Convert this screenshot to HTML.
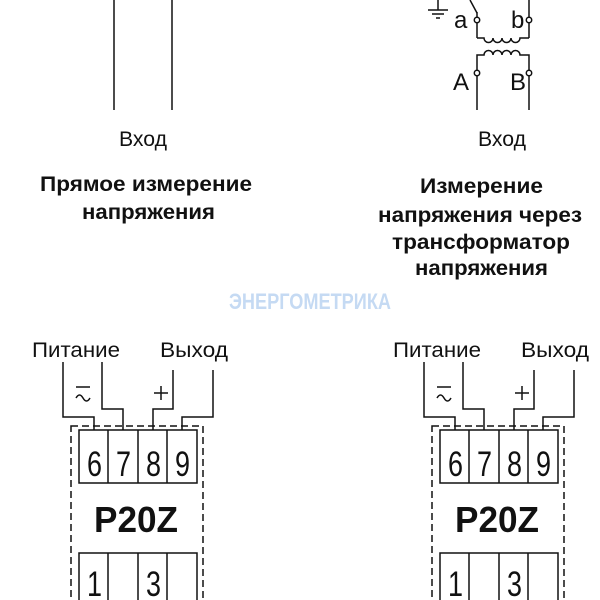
<!DOCTYPE html>
<html><head><meta charset="utf-8"><style>
html,body{margin:0;padding:0;background:#fff;}
svg{display:block;}
text{font-family:"Liberation Sans",sans-serif;fill:#111;}
.b{font-weight:bold;font-size:21px;}
.d{font-size:35px;}
</style></head><body>
<svg width="600" height="600" viewBox="0 0 600 600" xmlns="http://www.w3.org/2000/svg">
<g stroke="#111" stroke-width="1.5" fill="none">
<line x1="114" y1="0" x2="114" y2="110"/>
<line x1="172" y1="0" x2="172" y2="110"/>
<line x1="438" y1="0" x2="438" y2="10"/>
<line x1="428" y1="10" x2="448" y2="10"/>
<line x1="432" y1="14" x2="444" y2="14"/>
<line x1="436" y1="18" x2="440" y2="18"/>
<line x1="470" y1="0" x2="477" y2="13"/>
<line x1="477" y1="12" x2="477" y2="38"/>
<line x1="529" y1="0" x2="529" y2="38"/>
<path d="M477 38 H484 a4.5 4.5 0 0 0 9 0 a4.5 4.5 0 0 0 9 0 a4.5 4.5 0 0 0 9 0 a4.5 4.5 0 0 0 9 0 H529"/>
<path d="M477 110 V55 H484 a4.5 4.5 0 0 1 9 0 a4.5 4.5 0 0 1 9 0 a4.5 4.5 0 0 1 9 0 a4.5 4.5 0 0 1 9 0 H529 V110"/>
<circle cx="477" cy="20" r="2.7" fill="#fff"/>
<circle cx="529" cy="20" r="2.7" fill="#fff"/>
<circle cx="477" cy="73" r="2.7" fill="#fff"/>
<circle cx="529" cy="73" r="2.7" fill="#fff"/>
</g>
<text x="454" y="28" font-size="24">a</text>
<text x="511" y="28" font-size="24">b</text>
<text x="453" y="90" font-size="24">A</text>
<text x="510" y="90" font-size="24">B</text>

<text x="119" y="146" font-size="21" textLength="48" lengthAdjust="spacingAndGlyphs">Вход</text>
<text x="478" y="146" font-size="21" textLength="48" lengthAdjust="spacingAndGlyphs">Вход</text>
<text x="40" y="191" class="b" textLength="212" lengthAdjust="spacingAndGlyphs">Прямое измерение</text>
<text x="82" y="219" class="b" textLength="133" lengthAdjust="spacingAndGlyphs">напряжения</text>
<text x="420" y="193" class="b" textLength="123" lengthAdjust="spacingAndGlyphs">Измерение</text>
<text x="378" y="222" class="b" textLength="204" lengthAdjust="spacingAndGlyphs">напряжения через</text>
<text x="392" y="249" class="b" textLength="178" lengthAdjust="spacingAndGlyphs">трансформатор</text>
<text x="415" y="275" class="b" textLength="133" lengthAdjust="spacingAndGlyphs">напряжения</text>

<text x="229" y="309" font-size="22" font-weight="bold" textLength="162" lengthAdjust="spacingAndGlyphs" style="fill:#c5daf3">ЭНЕРГОМЕТРИКА</text>

<g id="blk">
<g stroke="#111" stroke-width="1.5" fill="none">
<rect x="71" y="426" width="132" height="190" stroke-dasharray="7,4"/>
<rect x="79" y="430" width="118" height="53" fill="#fff"/>
<line x1="108" y1="430" x2="108" y2="483"/>
<line x1="138" y1="430" x2="138" y2="483"/>
<line x1="167" y1="430" x2="167" y2="483"/>
<rect x="79" y="553" width="118" height="60" fill="#fff"/>
<line x1="108" y1="553" x2="108" y2="600"/>
<line x1="138" y1="553" x2="138" y2="600"/>
<line x1="167" y1="553" x2="167" y2="600"/>
<polyline points="63,362 63,417 94,417 94,430"/>
<polyline points="102,362 102,409 123,409 123,430"/>
<polyline points="173,370 173,409 153,409 153,430"/>
<polyline points="213,370 213,417 182,417 182,430"/>
<line x1="154" y1="393" x2="168" y2="393"/>
<line x1="161" y1="386" x2="161" y2="400"/>
<line x1="76" y1="387" x2="90" y2="387"/>
<path d="M76 398 q3.5 -6 7 0 t7 0"/>
</g>
<text x="32" y="357" font-size="21" textLength="88" lengthAdjust="spacingAndGlyphs">Питание</text>
<text x="160" y="357" font-size="21" textLength="68" lengthAdjust="spacingAndGlyphs">Выход</text>
<text x="87" y="476" class="d" textLength="15" lengthAdjust="spacingAndGlyphs">6</text>
<text x="116" y="476" class="d" textLength="15" lengthAdjust="spacingAndGlyphs">7</text>
<text x="146" y="476" class="d" textLength="15" lengthAdjust="spacingAndGlyphs">8</text>
<text x="175" y="476" class="d" textLength="15" lengthAdjust="spacingAndGlyphs">9</text>
<text x="94" y="532" font-size="36" font-weight="bold" textLength="84" lengthAdjust="spacingAndGlyphs">P20Z</text>
<text x="87" y="596" class="d" textLength="15" lengthAdjust="spacingAndGlyphs">1</text>
<text x="146" y="596" class="d" textLength="15" lengthAdjust="spacingAndGlyphs">3</text>
</g>
<use href="#blk" x="361" y="0"/>
</svg>
</body></html>
